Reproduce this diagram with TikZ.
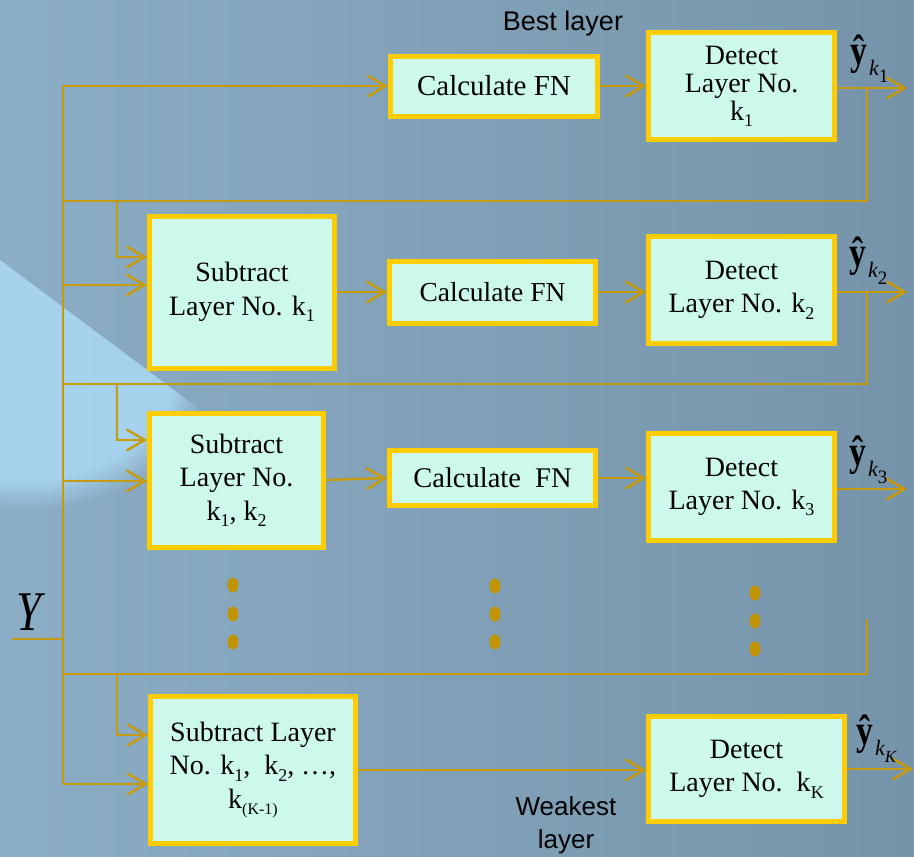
\documentclass[tikz,border=0pt]{standalone}
\usepackage{fontspec}
\usepackage{graphicx}
\setmainfont{Liberation Serif}
\newfontfamily\arialf{Liberation Sans}
\usetikzlibrary{arrows.meta,fadings}
\definecolor{bgL}{HTML}{8BADC5}
\definecolor{bgR}{HTML}{7594A9}
\definecolor{streak}{HTML}{ABD9F5}
\definecolor{wire}{HTML}{C69A08}
\definecolor{boxline}{HTML}{FFCC00}
\definecolor{boxfill}{HTML}{CCF9EB}
\definecolor{dotc}{HTML}{C29405}
\newcommand\lsub[1]{\raisebox{-0.22em}{\fontsize{18}{18}\selectfont #1}}
\newcommand\yhatlab[1]{\scalebox{0.8}[1]{\fontsize{42}{42}\selectfont\bfseries ŷ}\kern2pt\raisebox{-11pt}{\fontsize{22}{22}\selectfont\itshape k\raisebox{-7pt}{\fontsize{19}{19}\selectfont #1}}}
\begin{document}
\begin{tikzpicture}[x=1pt,y=-1pt,
  blk/.style={draw=boxline, fill=boxfill, line width=5pt, inner sep=0pt, align=center, font=\fontsize{28}{33.5}\selectfont},
  wireline/.style={draw=wire, line width=2.4pt},
  arr/.style={wireline, -{Straight Barb[length=18pt,width=21pt]}},
  lab/.style={inner sep=0pt, anchor=base west},
  sanslab/.style={font=\arialf\fontsize{27}{33}\selectfont, align=center, inner sep=0pt}]
% background
\useasboundingbox (0,0) rectangle (914,857);
\shade[left color=bgL, right color=bgR] (0,0) rectangle (914,857);
\begin{scope}
  \clip (0,260) -- (420,574) -- (420,857) -- (0,857) -- cycle;
  \fill[streak, opacity=0.85, path fading=circle with fuzzy edge 20 percent] (-160,200) rectangle (215,510);
\end{scope}
% coordinates
\coordinate (b0) at (63,86);
\coordinate (bK) at (63,784);
\coordinate (yin) at (12,639);
\coordinate (o1) at (907,88);
\coordinate (fb1) at (867,88);
\coordinate (h1) at (63,201);
\coordinate (br1) at (117,201);
\coordinate (a1) at (117,257);
\coordinate (c1) at (63,285);
\coordinate (o2) at (907,292);
\coordinate (fb2) at (867,292);
\coordinate (h2) at (63,384);
\coordinate (br2) at (117,384);
\coordinate (a2) at (117,440);
\coordinate (c2) at (63,481);
\coordinate (o3) at (907,489);
\coordinate (fb3) at (867,619);
\coordinate (h3) at (63,674);
\coordinate (br3) at (117,674);
\coordinate (a3) at (117,735);
\coordinate (c3) at (63,784);
\coordinate (o4) at (913,769);
% boxes
\node[blk, minimum width=207pt, minimum height=60pt, font=\fontsize{29}{33}\selectfont] (cf1) at (494,86) {Calculate FN};
\node[blk, minimum width=186pt, minimum height=107pt, font=\fontsize{28}{28}\selectfont] (det1) at (741.5,86) {Detect\\Layer No.\\k\lsub{1}};
\node[blk, minimum width=185pt, minimum height=152pt] (sub1) at (242,292) {Subtract\\Layer No. k\lsub{1}};
\node[blk, minimum width=206pt, minimum height=62pt, font=\fontsize{27.5}{33}\selectfont] (cf2) at (492.5,292) {Calculate FN};
\node[blk, minimum width=186pt, minimum height=107pt] (det2) at (741.5,290) {Detect\\Layer No. k\lsub{2}};
\node[blk, minimum width=174pt, minimum height=134pt] (sub2) at (236.5,480) {Subtract\\Layer No.\\k\lsub{1}, k\lsub{2}};
\node[blk, minimum width=206pt, minimum height=55pt, font=\fontsize{28.5}{33}\selectfont] (cf3) at (492.5,478) {Calculate\ \ FN};
\node[blk, minimum width=186pt, minimum height=107pt] (det3) at (741.5,487) {Detect\\Layer No. k\lsub{3}};
\node[blk, minimum width=205pt, minimum height=147pt] (subK) at (253,770) {Subtract Layer\\No. k\lsub{1},\ \ k\lsub{2}, \ldots,\\k\lsub{\fontsize{16}{16}\selectfont(K-1)}};
\node[blk, minimum width=196pt, minimum height=105pt] (detK) at (746.5,769) {Detect\\Layer No.\ \ k\lsub{K}};
% connectors
\draw[wireline] (b0) -- (bK);
\draw[wireline] (yin) -- (yin -| b0);
\draw[arr] (b0) -- (b0 -| cf1.west);
\draw[arr] (cf1.east) -- (cf1.east -| det1.west);
\draw[arr] (det1.east |- o1) -- (o1);
\draw[wireline] (fb1) |- (h1);
\draw[arr] (br1) |- (a1 -| sub1.west);
\draw[arr] (c1) -- (c1 -| sub1.west);
\draw[arr] (sub1.east) -- (sub1.east -| cf2.west);
\draw[arr] (cf2.east) -- (cf2.east -| det2.west);
\draw[arr] (det2.east |- o2) -- (o2);
\draw[wireline] (fb2) |- (h2);
\draw[arr] (br2) |- (a2 -| sub2.west);
\draw[arr] (c2) -- (c2 -| sub2.west);
\draw[arr] (sub2.east) -- (cf3.west);
\draw[arr] (cf3.east) -- (cf3.east -| det3.west);
\draw[arr] (det3.east |- o3) -- (o3);
\draw[wireline] (fb3) |- (h3);
\draw[arr] (br3) |- (a3 -| subK.west);
\draw[arr] (c3) -- (c3 -| subK.west);
\draw[arr] (subK.east) -- (subK.east -| detK.west);
\draw[arr] (detK.east |- o4) -- (o4);
% dots
\foreach \x/\y in {233/585,233/614,233/642,495/586,495/614,495/642,755/593,755/621,755/649}
  \fill[dotc] (\x,\y) ellipse [x radius=5.5pt, y radius=7.5pt];
% labels
\node[lab] (yl1) at (850,64) {\yhatlab{\upshape 1}};
\node[lab] (yl2) at (849,266) {\yhatlab{\upshape 2}};
\node[lab] (yl3) at (849,465) {\yhatlab{\upshape 3}};
\node[lab] (ylK) at (856,744) {\yhatlab{\fontsize{17}{17}\selectfont K}};
\node[lab] (ylab) at (16,630) {\scalebox{0.8}[1]{\fontsize{56}{56}\selectfont\itshape Y}};
\node[sanslab, anchor=base] (best) at (563,30) {Best layer};
\node[sanslab, font=\arialf\fontsize{26}{33}\selectfont] (weak) at (566,825) {Weakest\\layer};
\end{tikzpicture}
\end{document}
